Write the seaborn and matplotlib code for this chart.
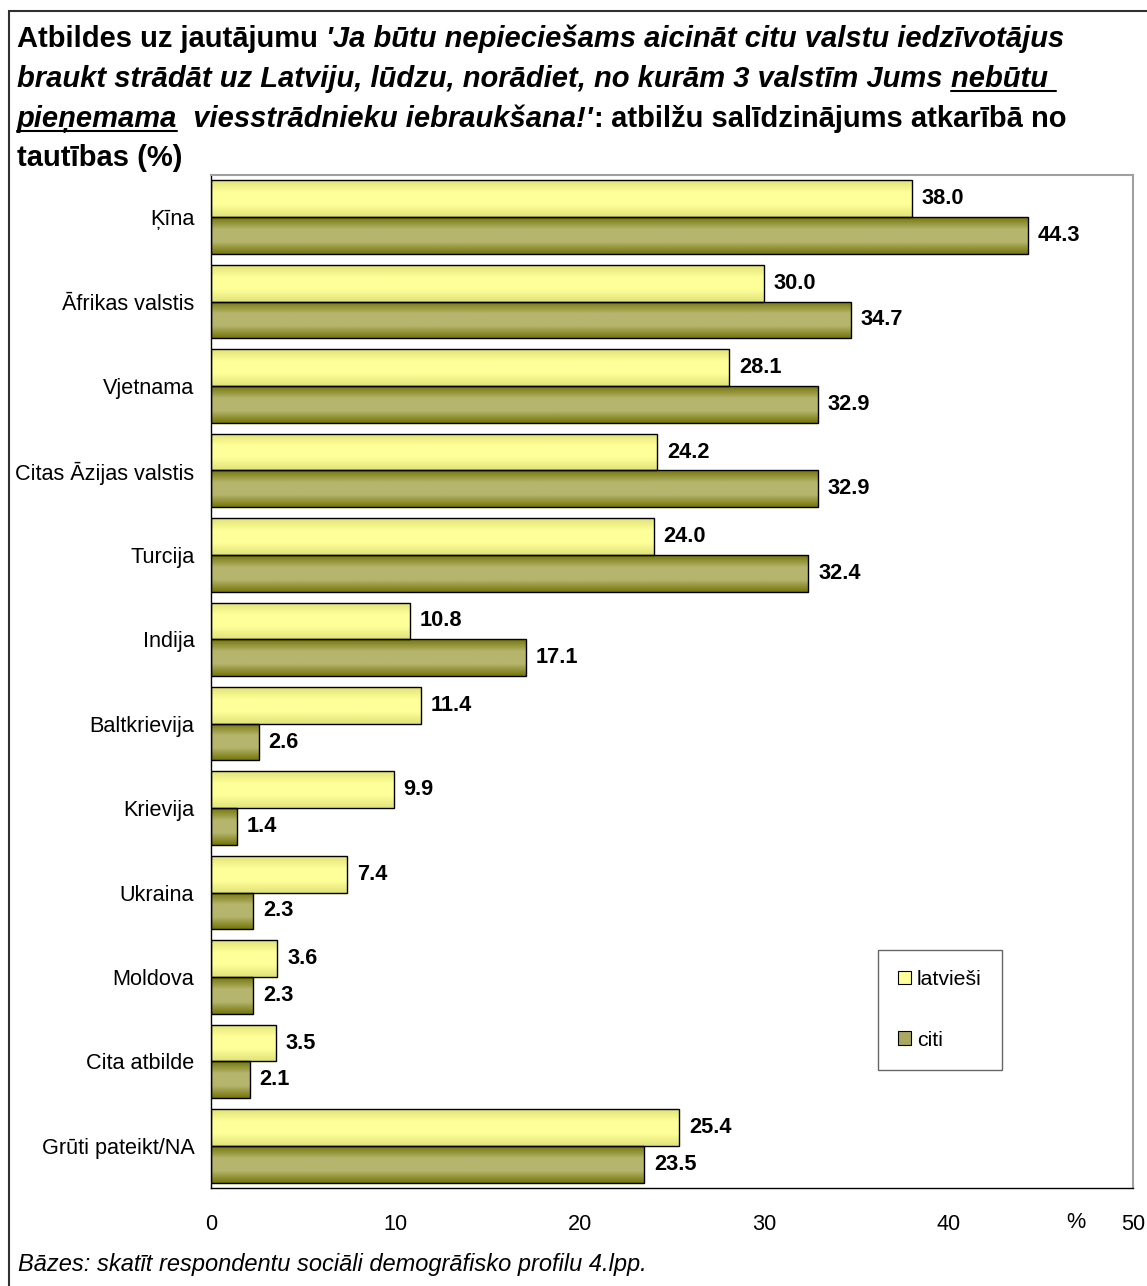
import numpy as np
import pandas as pd
import matplotlib
matplotlib.use("Agg")
import matplotlib.pyplot as plt
import seaborn as sns
from matplotlib.colors import LinearSegmentedColormap
from matplotlib.patches import Patch, Rectangle
from matplotlib.lines import Line2D

# dati
valstis = ["Ķīna", "Āfrikas valstis", "Vjetnama", "Citas Āzijas valstis", "Turcija",
           "Indija", "Baltkrievija", "Krievija", "Ukraina", "Moldova",
           "Cita atbilde", "Grūti pateikt/NA"]
latviesi = [38.0, 30.0, 28.1, 24.2, 24.0, 10.8, 11.4, 9.9, 7.4, 3.6, 3.5, 25.4]
citi = [44.3, 34.7, 32.9, 32.9, 32.4, 17.1, 2.6, 1.4, 2.3, 2.3, 2.1, 23.5]
grupas = ["latvieši", "citi"]

df = pd.DataFrame({
    "valsts": valstis * 2,
    "vertiba": latviesi + citi,
    "grupa": [grupas[0]] * len(valstis) + [grupas[1]] * len(valstis),
})

sns.set_style("white")
plt.rcParams["font.family"] = ["Liberation Sans", "DejaVu Sans"]
plt.rcParams["text.color"] = "black"
plt.rcParams["xtick.color"] = "black"
plt.rcParams["ytick.color"] = "black"
plt.rcParams["axes.labelcolor"] = "black"

W, H = 1147, 1286
fig = plt.figure(figsize=(W / 100, H / 100), dpi=100)
ax = fig.add_axes([211 / W, 1 - 1188 / H, (1133 - 211) / W, (1188 - 175) / H])

sns.barplot(data=df, y="valsts", x="vertiba", hue="grupa", orient="h",
            palette={"latvieši": "#FFFF99", "citi": "#A8A860"},
            width=0.87, edgecolor="black", linewidth=1, ax=ax, legend=False)

# gradienta aizpildījums
cm_gaiss = LinearSegmentedColormap.from_list("g", ["#E2E27A", "#FFFF99", "#FFFF99", "#E2E27A"])
cm_tumss = LinearSegmentedColormap.from_list("t", ["#76760A", "#B5B56E", "#B5B56E", "#76760A"])
grad = np.linspace(0, 1, 64).reshape(-1, 1)
bars = [p for p in ax.patches if p.get_width() > 0]
for i, p in enumerate(bars):
    cm = cm_gaiss if i < len(valstis) else cm_tumss
    x0, y0, w, h = p.get_x(), p.get_y(), p.get_width(), p.get_height()
    im = ax.imshow(grad, cmap=cm, extent=[x0, x0 + w, y0 + h, y0], aspect="auto",
                   interpolation="bilinear", zorder=1.5)
    im.set_clip_path(p)
    p.set_facecolor("none")
    p.set_zorder(2)

for c in ax.containers:
    ax.bar_label(c, fmt="%.1f", padding=7, fontsize=15.7, fontweight="bold", color="black")

ax.set_xlim(0, 50)
ax.set_ylim(len(valstis) - 0.5, -0.5)
ax.set_xticks(range(0, 51, 10))
ax.set_yticks(range(len(valstis)))
ax.set_yticklabels(valstis)
ax.set_yticks(np.arange(-0.5, len(valstis), 1), minor=True)
ax.tick_params(axis="y", which="major", length=0, pad=12, labelsize=15.6)
ax.tick_params(axis="y", which="minor", length=6, width=1, color="black", direction="out")
ax.tick_params(axis="x", length=6, width=1, color="black", direction="out", pad=13, labelsize=15.6)
ax.set_xlabel("")
ax.set_ylabel("")
ax.text(46.9, -0.034, "%", transform=ax.get_xaxis_transform(), ha="center", va="center", fontsize=15.6)

for s in ["left", "bottom"]:
    ax.spines[s].set_color("black")
    ax.spines[s].set_linewidth(1)
for s in ["top", "right"]:
    ax.spines[s].set_color("#A0A0A0")
    ax.spines[s].set_linewidth(1.5)

rokt = [Patch(facecolor="#FFFF99", edgecolor="black", lw=0.8),
        Patch(facecolor="#A8A860", edgecolor="black", lw=0.8)]
leg = ax.legend(rokt, grupas, loc="upper left", bbox_to_anchor=(0.723, 0.235),
                frameon=True, fancybox=False, edgecolor="#404040", fontsize=15.3,
                handlelength=0.6, handleheight=0.6, handletextpad=0.3,
                labelspacing=1.95, borderpad=0.95, borderaxespad=0)
leg.get_frame().set_linewidth(1)

# virsraksts pa daļām
fig.canvas.draw()
r = fig.canvas.get_renderer()
fs = 21
rindas = [
    [("Atbildes uz jautājumu ", "normal", False), ("'Ja būtu nepieciešams aicināt citu valstu iedzīvotājus", "italic", False)],
    [("braukt strādāt uz Latviju, lūdzu, norādiet, no kurām 3 valstīm Jums ", "italic", False), ("nebūtu ", "italic", True)],
    [("pieņemama", "italic", True), ("  viesstrādnieku iebraukšana!'", "italic", False), (":", "normal", False),
     (" atbilžu salīdzinājums atkarībā no", "normal", False)],
    [("tautības (%)", "normal", False)],
]
bazes = [47, 87, 127, 166]
for rinda, yb in zip(rindas, bazes):
    x = 17
    for teksts, stils, pasv in rinda:
        t = fig.text(x / W, 1 - yb / H, teksts, fontsize=fs, fontweight="bold", style=stils,
                     ha="left", va="baseline")
        bb = t.get_window_extent(renderer=r)
        if pasv:
            fig.add_artist(Line2D([x / W, (x + bb.width) / W], [1 - (yb + 4) / H] * 2,
                                  color="black", lw=1.5, transform=fig.transFigure))
        x += bb.width

fig.text(18 / W, 1 - 1271 / H, "Bāzes: skatīt respondentu sociāli demogrāfisko profilu 4.lpp.",
         fontsize=17, style="italic", ha="left", va="baseline")

fig.add_artist(Rectangle((9 / W, -0.1), 2, 1.1 - 11 / H, transform=fig.transFigure,
                         fill=False, edgecolor="#303030", lw=1.5))

fig.savefig("out.png", dpi=100)
